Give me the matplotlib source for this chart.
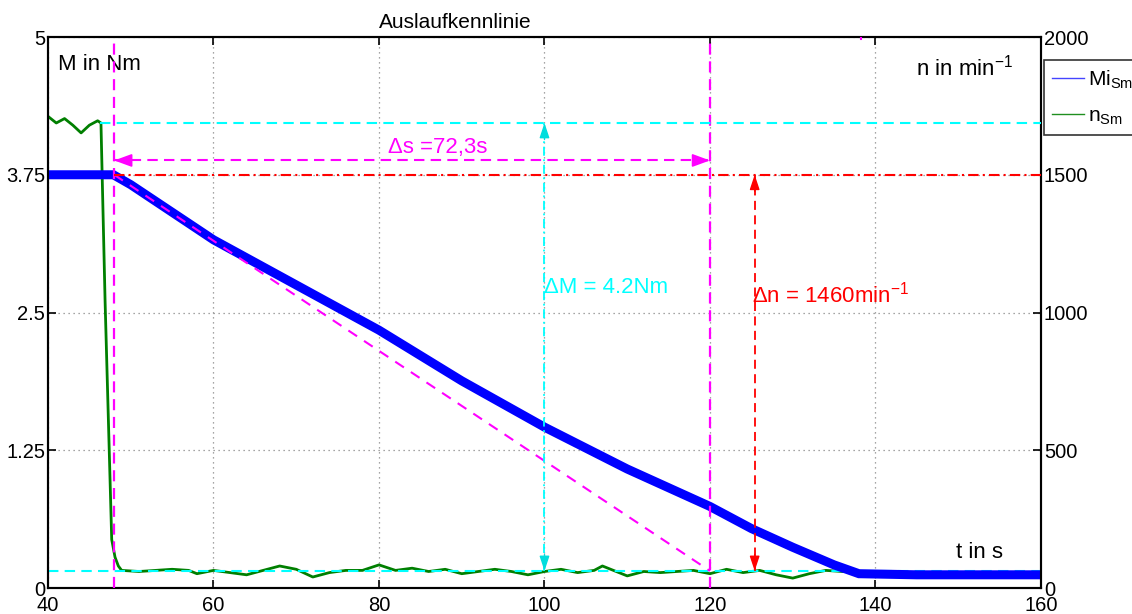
import matplotlib
matplotlib.use("Agg")
import matplotlib.pyplot as plt
from matplotlib.lines import Line2D

plt.rcParams['font.family'] = ['Liberation Sans', 'DejaVu Sans']
plt.rcParams['mathtext.fontset'] = 'custom'
plt.rcParams['mathtext.rm'] = 'Liberation Sans'
plt.rcParams['mathtext.it'] = 'Liberation Sans:italic'
plt.rcParams['mathtext.bf'] = 'Liberation Sans:bold'

# ---------------- data ----------------
# Mi_Sm (blue) in min^-1 (right axis)
t_blue = [40, 47.9, 50, 60, 70, 80, 90, 100, 110, 120, 125, 130, 135, 138, 145, 160]
n_blue = [1500, 1500, 1464, 1264, 1100, 936, 752, 584, 432, 296, 216, 148, 84, 52, 48, 48]

# n_Sm (green) in Nm (left axis)
t_green = [40, 41, 42, 43, 44, 45, 46, 46.4, 46.9, 47.5, 47.7, 48.1, 48.5, 48.9,
           51, 53, 55, 57, 58, 60, 62, 64, 66, 68, 70, 72, 74, 76, 78, 80, 82, 84,
           86, 88, 90, 92, 94, 96, 98, 100, 102, 104, 106, 107, 109, 110, 112, 114,
           116, 118, 120, 122, 124, 126, 128, 130, 132, 134, 136, 138, 140, 145,
           150, 155, 160]
m_green = [4.28, 4.22, 4.26, 4.20, 4.13, 4.20, 4.24, 4.22, 2.6, 0.98, 0.44, 0.28, 0.20, 0.16,
           0.15, 0.16, 0.17, 0.16, 0.13, 0.16, 0.14, 0.12, 0.16, 0.20, 0.17, 0.10, 0.14, 0.16,
           0.16, 0.21, 0.16, 0.18, 0.15, 0.17, 0.13, 0.15, 0.17, 0.15, 0.12, 0.15, 0.17, 0.14,
           0.16, 0.20, 0.14, 0.11, 0.15, 0.14, 0.15, 0.16, 0.13, 0.17, 0.14, 0.16, 0.12, 0.09,
           0.13, 0.16, 0.15, 0.15, 0.14, 0.13, 0.14, 0.13, 0.12]

x_ticks = [40, 60, 80, 100, 120, 140, 160]
m_ticks = [0, 1.25, 2.5, 3.75, 5]
m_tick_labels = ['0', '1.25', '2.5', '3.75', '5']
n_ticks = [0, 500, 1000, 1500, 2000]

M_MAX, N_MAX = 5, 2000
T_MIN, T_MAX = 40, 160

# annotation values
t_s0, t_s1 = 48.0, 120.0          # Δs interval
m_upper, m_lower = 4.22, 0.155    # ΔM levels (Nm)
n_upper = 1500                    # Δn upper level (min^-1)
t_dM = 100.0                      # ΔM arrow position
t_dn = 125.4                      # Δn arrow position
m_ds_arrow = 3.88                 # Δs arrow level (Nm)
t_mark = 138.2

def m2n(m):
    return m * N_MAX / M_MAX

# ---------------- figure ----------------
fig = plt.figure(figsize=(11.32, 6.14), dpi=100)
ax1 = fig.add_axes([0.0424, 0.0423, 0.8772, 0.8974])
ax2 = ax1.twinx()

FS = 14.5
FT = 16

ax1.plot(t_green, m_green, color='#007f00', lw=2.0, zorder=2)
ax2.plot(t_blue, n_blue, color='#0000ff', lw=6.5, solid_joinstyle='miter', zorder=2)

ax1.set_xlim(T_MIN, T_MAX)
ax1.set_ylim(0, M_MAX)
ax2.set_ylim(0, N_MAX)
ax1.set_xticks(x_ticks)
ax1.set_yticks(m_ticks)
ax1.set_yticklabels(m_tick_labels)
ax2.set_yticks(n_ticks)

ax1.grid(True, linestyle=(0, (1, 3)), color='#888888', lw=0.9)
ax1.tick_params(axis='x', direction='in', top=True, length=6, width=1.2,
                labelsize=FS, pad=5.5)
ax1.tick_params(axis='y', direction='in', length=6, width=1.2, labelsize=FS, pad=2)
ax2.tick_params(axis='y', direction='in', length=6, width=1.2, labelsize=FS, pad=2)
for ax in (ax1, ax2):
    for s in ax.spines.values():
        s.set_linewidth(1.5)

Z = 5
# vertical magenta lines
ax2.plot([t_s0, t_s0], [0, N_MAX], color='#ff00ff', ls=(0, (5, 3)), lw=1.6, zorder=Z)
ax2.plot([t_s1, t_s1], [0, N_MAX], color='#ff00ff', ls=(0, (5, 3)), lw=1.6, zorder=Z)
ax2.plot([t_mark, t_mark], [m2n(4.98), N_MAX], color='#ff00ff', lw=1.5, zorder=Z)
# diagonal tangent
ax2.plot([t_s0, t_s1], [n_upper, m2n(m_lower)], color='#ff00ff', ls=(0, (5, 4)), lw=1.5, zorder=Z)
# Δs arrow
ax2.plot([t_s0, t_s1], [m2n(m_ds_arrow)] * 2, color='#ff00ff', ls=(0, (5, 3)), lw=1.5, zorder=Z)
arrow_m = dict(arrowstyle='-|>,head_length=0.6,head_width=0.22', color='#ff00ff',
               lw=1.2, shrinkA=0, shrinkB=0, mutation_scale=18)
ax2.annotate('', xy=(t_s0, m2n(m_ds_arrow)), xytext=(t_s0 + 2, m2n(m_ds_arrow)),
             arrowprops=arrow_m, zorder=Z)
ax2.annotate('', xy=(t_s1, m2n(m_ds_arrow)), xytext=(t_s1 - 2, m2n(m_ds_arrow)),
             arrowprops=arrow_m, zorder=Z)
ax2.text(81.1, m2n(4.0), 'Δs =72,3s', color='#ff00ff', fontsize=FT,
         ha='left', va='center', zorder=Z)

# cyan lines
ax2.plot([46.3, T_MAX], [m2n(m_upper)] * 2, color='#00ffff', ls=(0, (5, 3)), lw=1.5, zorder=Z)
ax2.plot([T_MIN, T_MAX], [m2n(m_lower)] * 2, color='#00ffff', ls=(0, (5, 3)), lw=1.5, zorder=1)
ax2.plot([t_dM, t_dM], [m2n(m_lower), m2n(m_upper)], color='#00ffff',
         ls=(0, (5, 2, 1, 2)), lw=1.3, zorder=Z)
arrow_c = dict(arrowstyle='-|>,head_length=0.6,head_width=0.2', color='#00dddd',
               lw=1.0, shrinkA=0, shrinkB=0, mutation_scale=15)
ax2.annotate('', xy=(t_dM, m2n(m_upper)), xytext=(t_dM, m2n(m_upper) - 60),
             arrowprops=arrow_c, zorder=Z)
ax2.annotate('', xy=(t_dM, m2n(m_lower)), xytext=(t_dM, m2n(m_lower) + 60),
             arrowprops=arrow_c, zorder=Z)
ax2.text(t_dM, m2n(2.73), 'ΔM = 4.2Nm', color='#00ffff', fontsize=FT,
         ha='left', va='center', zorder=Z)

# red lines
ax2.plot([t_s0, T_MAX], [n_upper] * 2, color='#ff0000', ls=(0, (5, 2, 1, 2)), lw=1.5, zorder=Z)
ax2.plot([t_dn, t_dn], [m2n(m_lower), n_upper], color='#ff0000', ls=(0, (5, 3)), lw=1.3, zorder=Z)
arrow_r = dict(arrowstyle='-|>,head_length=0.6,head_width=0.2', color='#ff0000',
               lw=1.0, shrinkA=0, shrinkB=0, mutation_scale=15)
ax2.annotate('', xy=(t_dn, n_upper), xytext=(t_dn, n_upper - 60),
             arrowprops=arrow_r, zorder=Z)
ax2.annotate('', xy=(t_dn, m2n(m_lower)), xytext=(t_dn, m2n(m_lower) + 60),
             arrowprops=arrow_r, zorder=Z)
ax2.text(t_dn - 0.3, m2n(2.66), 'Δn = 1460min$^{-1}$', color='#ff0000', fontsize=FT,
         ha='left', va='center', zorder=Z)

# axis texts
ax1.text(41.2, 4.75, 'M in Nm', fontsize=FT, ha='left', va='center')
ax1.text(156.6, 4.72, 'n in min$^{-1}$', fontsize=FT, ha='right', va='center')
ax1.text(152.6, 0.32, 't in s', fontsize=FT, ha='center', va='center')
ax1.text(89.2, 1.027, 'Auslaufkennlinie', fontsize=15, ha='center', va='center',
         transform=ax1.get_xaxis_transform())

handles = [Line2D([], [], color='#4444ff', lw=1.0),
           Line2D([], [], color='#208f20', lw=1.0)]
leg = ax2.legend(handles, ['Mi$_{\\rm Sm}$', 'n$_{\\rm Sm}$'],
                 loc='upper left', bbox_to_anchor=(1.003, 0.958),
                 borderaxespad=0, fontsize=15, frameon=True, fancybox=False,
                 edgecolor='black', handlelength=1.5, handletextpad=0.2,
                 borderpad=0.4, labelspacing=0.75)
leg.get_frame().set_linewidth(1.2)

fig.savefig('out.png', dpi=100)
